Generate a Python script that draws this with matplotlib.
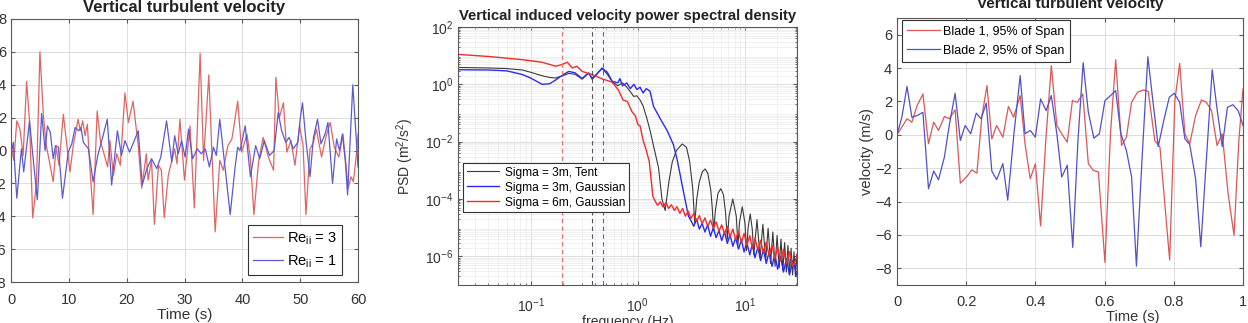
import numpy as np
import matplotlib
matplotlib.use('Agg')
import matplotlib.pyplot as plt
from matplotlib.ticker import LogLocator, NullFormatter

plt.rcParams['font.family'] = ['Liberation Sans', 'DejaVu Sans']
plt.rcParams['mathtext.fontset'] = 'custom'
plt.rcParams['mathtext.rm'] = 'Liberation Sans'
plt.rcParams['mathtext.it'] = 'Liberation Sans'

# --- 1. turbulent velocity, 60 s record ---
t_re3 = [0.0, 0.5, 1.0, 1.55, 2.1, 2.7, 3.2, 3.75, 4.4, 5.0, 5.6, 6.1, 6.6, 7.3, 7.8, 8.3,
         9.05, 9.6, 10.2, 10.8, 11.6, 12.0, 12.4, 12.8, 13.2, 13.6, 14.2, 14.9, 15.5, 16.0,
         16.7, 17.1, 17.7, 18.3, 18.9, 19.7, 20.3, 21.1, 22.0, 22.6, 23.4, 23.7, 24.3, 24.8,
         25.5, 26.0, 26.5, 27.2, 28.3, 28.7, 29.2, 30.0, 30.95, 31.7, 32.7, 33.3, 34.2, 35.3,
         36.1, 36.7, 37.5, 38.2, 39.2, 39.9, 40.8, 41.4, 42.0, 42.8, 43.6, 44.5, 45.4, 45.8,
         46.4, 47.1, 47.7, 48.4, 49.1, 49.9, 50.5, 51.0, 51.7, 52.3, 52.8, 53.7, 54.5, 55.2,
         55.9, 56.7, 57.4, 58.3, 58.8, 59.2, 59.8, 60.0]
w_re3 = [0.2, -0.6, 1.8, 1.3, -0.3, 4.2, 1.8, -4.1, -2.0, 6.0, 2.1, 0.3, -0.6, -1.9, 0.2, -0.9,
         2.2, 0.5, -1.3, 0.4, 1.9, 1.2, 1.8, 0.9, 1.6, -0.8, -3.9, 2.4, 0.5, -0.1,
         -1.0, 0.6, -1.5, -0.2, -0.9, 3.5, 1.7, 3.0, 0.3, -2.3, -0.2, -1.8, -0.6, -4.5,
         -0.9, -1.2, -4.1, -1.5, 0.1, -0.8, 1.9, -1.8, 1.5, -3.5, 5.9, -0.6, 4.6, -4.95,
         -0.6, -1.2, 0.3, 0.7, 3.0, -0.1, 1.0, -0.5, -3.9, -0.7, 0.8, -0.4, -1.2, 4.45,
         2.0, 2.9, -0.1, 0.6, -0.9, 1.5, 0.3, -3.9, 0.1, 0.5, 1.3, -0.4, 0.9, 1.7,
         0.2, -0.4, 1.0, -2.3, -1.6, -1.9, 0.0, 1.0]

t_re1 = [0.0, 0.4, 1.0, 1.8, 2.2, 3.2, 3.75, 4.55, 5.3, 5.9, 6.3, 6.8, 7.3, 7.7, 8.2, 8.9,
         9.9, 10.5, 11.1, 11.7, 12.1, 12.5, 13.4, 14.2, 15.0, 15.7, 16.65, 17.4, 18.4, 19.1,
         19.7, 20.5, 21.2, 22.0, 22.7, 23.5, 24.3, 25.2, 25.9, 26.9, 27.8, 28.3, 28.9, 29.5,
         30.1, 30.7, 31.4, 32.2, 32.9, 33.6, 34.3, 35.0, 35.5, 36.1, 37.0, 37.9, 38.75, 39.2,
         39.6, 40.5, 41.4, 42.3, 43.0, 43.8, 44.7, 45.5, 46.2, 46.8, 47.5, 48.1, 48.8, 49.6,
         50.0, 50.4, 51.0, 51.7, 52.3, 53.0, 53.6, 54.3, 54.8, 55.6, 56.3, 56.8, 57.3, 57.8,
         58.2, 59.1, 59.7, 60.0]
w_re1 = [-0.3, 0.5, -2.9, 0.1, -1.3, 1.8, -0.2, -3.0, 2.25, 0.0, 1.5, 1.1, -0.5, 0.3, 0.2, -2.9,
         -0.1, 0.4, 1.4, 1.2, 1.4, 0.5, 0.1, -1.9, -0.3, 0.6, 1.9, -2.1, 1.2, -0.3,
         0.6, -0.1, 0.5, 1.2, -2.1, -1.1, -0.5, -1.1, -0.4, 1.8, -0.7, 0.9, -0.2, 0.6,
         -0.4, 1.3, -0.5, 0.1, -0.2, 0.1, -1.0, 0.2, -0.3, 1.9, -1.0, -3.9, -1.0, 0.2,
         0.0, 1.5, -1.6, 0.3, -0.5, 0.6, -0.3, 0.0, 2.3, 1.2, 0.5, 0.8, 0.1, 0.5,
         1.9, 2.9, 0.6, -1.6, 0.8, 1.9, 0.4, 1.0, 1.7, -2.0, 0.7, 0.0, 1.0, -0.6,
         -2.7, 4.0, 0.7, -1.0]

# --- 2. PSD (values stored as log10 of m^2/s^2) ---
f_tent = [0.02, 0.041, 0.06, 0.084, 0.1, 0.128, 0.15, 0.171, 0.2, 0.227, 0.26, 0.303, 0.33,
          0.349, 0.375, 0.41, 0.464, 0.52, 0.575, 0.65, 0.72, 0.79, 0.85, 0.914, 0.98, 1.05,
          1.12, 1.218, 1.3, 1.403, 1.56, 1.68, 1.8,
          1.95, 2.1, 2.3, 2.6, 2.85, 3.05, 3.25, 3.4,
          3.55, 3.75, 4.0, 4.25, 4.5, 4.8, 4.95, 5.1,
          5.3, 5.6, 5.95, 6.3, 6.6, 6.85,
          7.1, 7.7, 8.3, 8.6, 8.9, 9.45, 10.0, 10.35, 10.7, 11.2, 11.7, 12.1,
          12.95, 13.85, 14.7, 15.6, 16.45, 17.35, 18.2, 19.1, 19.95, 20.85, 21.7, 22.6,
          23.45, 24.35, 25.2, 26.1, 26.95, 27.85, 28.7, 29.6, 30.45, 31.35]
p_tent = [0.59, 0.57, 0.55, 0.5, 0.42, 0.3, 0.24, 0.22, 0.3, 0.38, 0.35, 0.18, 0.32,
          0.38, 0.22, 0.35, 0.55, 0.35, 0.1, -0.05, 0.05, -0.1, -0.25, -0.42, -0.4, -0.55,
          -0.75, -1.2, -1.6, -2.15, -2.9, -4.0, -4.4,
          -3.4, -2.7, -2.3, -2.08, -2.2, -2.7, -3.6, -4.85,
          -4.0, -3.4, -3.05, -2.95, -3.1, -3.7, -4.3, -5.1,
          -4.4, -3.8, -3.64, -3.85, -4.5, -5.4,
          -4.6, -4.0, -4.6, -5.6, -4.8, -4.27, -4.85, -5.8, -5.0, -4.52, -5.05, -5.95,
          -4.72, -6.05, -4.88, -6.15, -5.02, -6.25, -5.15, -6.35, -5.27, -6.4, -5.4, -6.5,
          -5.52, -6.55, -5.62, -6.6, -5.72, -6.65, -5.84, -6.7, -5.92, -6.75]

f_gauss3 = [0.02, 0.041, 0.06, 0.084, 0.1, 0.128, 0.15, 0.171, 0.2, 0.227, 0.26, 0.303,
            0.33, 0.349, 0.375, 0.41, 0.464, 0.52, 0.575, 0.65, 0.68, 0.72, 0.79, 0.85,
            0.92, 0.98, 1.05, 1.12, 1.2, 1.3, 1.403, 1.62, 1.87, 2.15, 2.32, 2.5, 2.67, 2.97]
p_gauss3 = [0.51, 0.5, 0.47, 0.34, 0.22, 0.0, 0.02, 0.15, 0.33, 0.45, 0.4, 0.2,
            0.33, 0.4, 0.18, 0.33, 0.57, 0.42, 0.11, 0.05, 0.2, -0.05, 0.05, -0.15,
            0.0, -0.18, -0.1, -0.3, -0.15, -0.24, -0.77, -1.2, -1.6, -2.1, -2.6, -3.2, -3.75, -4.6]

f_gauss6 = [0.02, 0.041, 0.084, 0.128, 0.171, 0.196, 0.22, 0.245, 0.27, 0.303, 0.375, 0.464,
            0.575, 0.66, 0.73, 0.8, 0.88, 0.95, 1.0, 1.05, 1.12, 1.2, 1.28, 1.33, 1.38]
p_gauss6 = [1.05, 0.97, 0.86, 0.77, 0.63, 0.69, 0.77, 0.57, 0.63, 0.45, 0.34, 0.19,
            0.08, -0.2, -0.55, -0.6, -0.95, -1.1, -1.4, -1.45, -1.95, -2.3, -2.7, -3.3, -3.9]

# noisy high-frequency floor
f_floor = [1.44, 1.53, 1.62, 1.72, 1.83, 1.94, 2.06, 2.19, 2.32, 2.47, 2.62, 2.78, 2.95,
           3.13, 3.33, 3.54, 3.75, 3.99, 4.23, 4.49, 4.77, 5.07, 5.38, 5.72, 6.07, 6.44,
           6.84, 7.26, 7.71, 8.19, 8.70, 9.27, 9.81, 10.4, 11.1, 11.7, 12.4, 13.2, 14.0,
           14.9, 15.8, 16.8, 17.9, 19.0, 20.2, 21.5, 22.9, 24.4, 26.0, 28.0, 31.0]
p_floor6 = [-4.05, -4.22, -4.1, -4.28, -4.12, -4.33, -4.2, -4.4, -4.27, -4.5,
            -4.33, -4.6, -4.42, -4.68, -4.5, -4.78, -4.58, -4.86, -4.66, -4.95,
            -4.74, -5.02, -4.8, -5.12, -4.9, -5.22, -4.96, -5.32, -5.05, -5.42,
            -5.12, -5.52, -5.2, -5.62, -5.28, -5.72, -5.36, -5.8, -5.44, -5.9,
            -5.5, -5.98, -5.6, -6.08, -5.68, -6.16, -5.76, -6.26, -5.84, -6.34, -5.95]
p_floor3 = [-4.75, -4.95, -4.7, -5.05, -4.85, -5.15, -4.9, -5.3, -5.0, -5.35,
            -5.1, -5.45, -5.15, -5.55, -5.25, -5.65, -5.35, -5.75, -5.42, -5.85,
            -5.5, -5.95, -5.58, -6.05, -5.68, -6.15, -5.75, -6.25, -5.85, -6.35,
            -5.92, -6.45, -6.0, -6.55, -6.08, -6.65, -6.15, -6.75]

f_marks = [0.196, 0.37, 0.475]   # dashed reference frequencies (6m, tent, gaussian 3m)

# --- 3. blade tip velocity, 1 s ---
t_b1 = [0.0, 0.029, 0.043, 0.058, 0.075, 0.091, 0.106, 0.12, 0.137, 0.151, 0.168, 0.183,
        0.202, 0.216, 0.231, 0.245, 0.26, 0.274, 0.288, 0.306, 0.322, 0.337, 0.356, 0.37,
        0.385, 0.4, 0.415, 0.43, 0.446, 0.462, 0.476, 0.492, 0.507, 0.521, 0.537, 0.553,
        0.567, 0.582, 0.601, 0.617, 0.632, 0.649, 0.663, 0.678, 0.695, 0.712, 0.726, 0.745,
        0.76, 0.788, 0.803, 0.817, 0.832, 0.846, 0.863, 0.88, 0.894, 0.909, 0.925, 0.94,
        0.957, 0.974, 0.988, 1.0]
v_b1 = [0.0, 0.96, 0.76, 1.75, 2.45, -0.54, 0.76, 0.26, 1.1, 0.96, 1.5, -2.9,
        -2.5, -2.1, -2.3, 1.05, 2.95, -0.25, 0.56, -0.15, 1.7, 1.05, 2.35, -0.54,
        -2.63, -1.73, -5.46, -0.34, 4.14, 0.56, 0.06, -0.44, 2.05, 1.95, 2.45, -1.73,
        -2.13, -2.23, -7.65, 0.06, 4.5, -0.64, -0.14, 1.95, 2.55, 2.69, 2.61, -0.34,
        -0.74, -7.5, 2.05, 4.28, 0.06, -0.54, 1.15, 2.09, 1.95, 1.45, -0.64, 0.06,
        -3.53, -6.02, -0.34, 2.75]

t_b2 = [0.0, 0.014, 0.029, 0.043, 0.058, 0.075, 0.091, 0.106, 0.12, 0.137, 0.151, 0.168,
        0.183, 0.197, 0.213, 0.229, 0.243, 0.258, 0.274, 0.288, 0.306, 0.32, 0.338, 0.356,
        0.37, 0.385, 0.4, 0.415, 0.431, 0.446, 0.462, 0.476, 0.492, 0.508, 0.523, 0.538,
        0.553, 0.569, 0.585, 0.601, 0.617, 0.632, 0.647, 0.663, 0.678, 0.692, 0.709, 0.725,
        0.74, 0.755, 0.771, 0.787, 0.801, 0.817, 0.832, 0.846, 0.863, 0.878, 0.894, 0.911,
        0.925, 0.94, 0.955, 0.971, 0.986, 1.0]
v_b2 = [0.0, 1.05, 2.9, 1.05, 1.15, 1.35, -3.23, -2.17, -2.69, -1.33, 0.56, 2.49,
        -0.34, 0.56, 0.06, 1.3, 0.96, 1.9, -2.17, -2.69, -1.73, -3.92, 0.06, 3.55,
        0.06, 0.26, -0.14, 2.15, 1.45, 2.35, 0.06, -2.53, -1.83, -6.75, -0.34, 4.32,
        1.35, -0.2, 0.06, 2.05, 2.35, 2.65, 0.06, -0.94, -2.53, -7.87, -1.14, 4.68,
        1.95, -0.7, 0.86, 2.25, 2.49, 1.95, -0.24, -0.58, -2.63, -6.71, -1.53, 3.9,
        1.55, -0.7, 1.65, 1.8, 1.45, 0.56]

# --- styling helpers (MATLAB-ish look) ---
W, H = 1248, 323
box_col = '#5a5a5a'
txt_col = '#333333'
grid_col = '#dddddd'


def matlab_axes(ax, tick_size):
    for s in ax.spines.values():
        s.set_color(box_col)
        s.set_linewidth(0.8)
    ax.tick_params(which='both', direction='in', top=True, right=True,
                   colors=box_col, labelcolor=txt_col, labelsize=tick_size)
    ax.tick_params(which='major', length=3)
    ax.tick_params(which='minor', length=1.5)
    ax.grid(True, which='major', color=grid_col, linewidth=0.7)
    ax.set_axisbelow(True)


def boxed_legend(ax, **kw):
    leg = ax.legend(borderaxespad=0, fancybox=False, framealpha=1, **kw)
    leg.get_frame().set_edgecolor('#333333')
    leg.get_frame().set_linewidth(0.8)
    return leg


fig = plt.figure(figsize=(W / 100, H / 100), dpi=100)

# panel 1
ax1 = fig.add_axes([11 / W, 41 / H, 347 / W, 263 / H])
ax1.plot(t_re3, w_re3, color='#e06464', linewidth=0.9, label='Re$_{ii}$ = 3')
ax1.plot(t_re1, w_re1, color='#5a5ad2', linewidth=0.9, label='Re$_{ii}$ = 1')
ax1.set_xlim(0, 60)
ax1.set_ylim(-8, 8)
ax1.set_xticks(np.arange(0, 61, 10))
ax1.set_yticks(np.arange(-8, 9, 2))
matlab_axes(ax1, 10.5)
ax1.tick_params(axis='x', pad=8)
ax1.set_title('Vertical turbulent velocity', fontsize=12, fontweight='bold',
              color='#222222', pad=5)
ax1.set_xlabel('Time (s)', fontsize=11, color=txt_col, labelpad=1)
boxed_legend(ax1, loc='lower right', bbox_to_anchor=(0.954, 0.027),
             fontsize=10.5, handlelength=2.1, handletextpad=0.25,
             borderpad=0.35, labelspacing=0.45)

# panel 2
ax2 = fig.add_axes([458 / W, 38 / H, 339 / W, 258 / H])
ax2.set_xscale('log')
ax2.set_yscale('log')
ax2.plot(f_tent, 10 ** np.array(p_tent), color='#3a3a3a', linewidth=0.8,
         label='Sigma = 3m, Tent')
ax2.plot(f_gauss3 + f_floor[13:], 10 ** np.array(p_gauss3 + p_floor3), color='#2b2bf0',
         linewidth=1.0, label='Sigma = 3m, Gaussian')
ax2.plot(f_gauss6 + f_floor, 10 ** np.array(p_gauss6 + p_floor6), color='#f52a2a',
         linewidth=1.0, label='Sigma = 6m, Gaussian')
for f0, c in zip(f_marks, ['#e87070', '#555555', '#5a5ad8']):
    ax2.axvline(f0, color=c, linewidth=0.8, linestyle=(0, (4, 3)))
ax2.set_xlim(0.021, 30.6)
ax2.set_ylim(1e-7, 1e2)
ax2.set_yticks([1e-6, 1e-4, 1e-2, 1e0, 1e2])
ax2.yaxis.set_minor_locator(LogLocator(base=10, subs=np.arange(2, 10), numticks=20))
ax2.yaxis.set_minor_formatter(NullFormatter())
ax2.xaxis.set_minor_locator(LogLocator(base=10, subs=np.arange(2, 10), numticks=20))
ax2.xaxis.set_minor_formatter(NullFormatter())
matlab_axes(ax2, 10)
ax2.grid(True, which='minor', color='#ececec', linewidth=0.5)
ax2.tick_params(axis='x', pad=8)
ax2.set_title('Vertical induced velocity power spectral density', fontsize=10.7,
              fontweight='bold', color='#222222', pad=5)
ax2.set_xlabel('frequency (Hz)', fontsize=10, color=txt_col, labelpad=0)
ax2.set_ylabel('PSD (m$^2$/s$^2$)', fontsize=10, color=txt_col, labelpad=6)
boxed_legend(ax2, loc='upper left', bbox_to_anchor=(0.015, 0.473),
             fontsize=8.6, handlelength=2.7, handletextpad=0.55,
             borderpad=0.3, labelspacing=0.25)

# panel 3
ax3 = fig.add_axes([897 / W, 38 / H, 346 / W, 267 / H])
ax3.plot(t_b1, v_b1, color='#dc5656', linewidth=0.9, label='Blade 1, 95% of Span')
ax3.plot(t_b2, v_b2, color='#5050cc', linewidth=0.9, label='Blade 2, 95% of Span')
ax3.set_xlim(0, 1)
ax3.set_ylim(-9, 7)
ax3.set_xticks([0, 0.2, 0.4, 0.6, 0.8, 1])
ax3.set_xticklabels(['0', '0.2', '0.4', '0.6', '0.8', '1'])
ax3.set_yticks(np.arange(-8, 7, 2))
matlab_axes(ax3, 10.5)
ax3.tick_params(axis='x', pad=7)
ax3.set_title('Vertical turbulent velocity', fontsize=11, fontweight='bold',
              color='#222222', pad=7)
ax3.set_xlabel('Time (s)', fontsize=10.5, color=txt_col)
ax3.xaxis.set_label_coords(0.68, -0.095)
ax3.set_ylabel('velocity (m/s)', fontsize=10.5, color=txt_col, labelpad=1)
boxed_legend(ax3, loc='upper left', bbox_to_anchor=(0.0136, 0.9925),
             fontsize=9, handlelength=2.6, handletextpad=0.25,
             borderpad=0.45, labelspacing=0.55)

fig.savefig('out.png', dpi=100)
